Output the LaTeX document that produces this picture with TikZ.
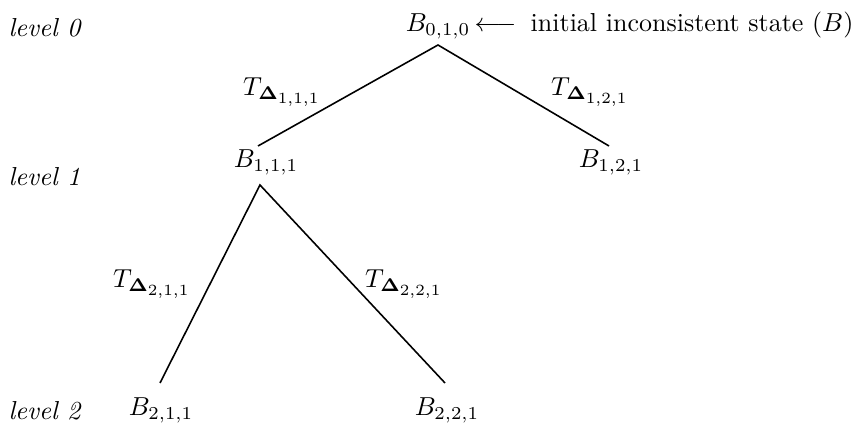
\documentclass[tikz,border=0pt]{standalone}
\usepackage{amsmath, amssymb}
\usepackage{tikz}
\DeclareMathSizes{10}{10}{7}{6}

\tikzset{
	lvl/.style={anchor=base west, inner sep=0pt, scale=1.48, font=\itshape},
	st/.style={anchor=base, inner sep=0pt, scale=1.48},
	edge/.style={line width=0.9pt}
}

\begin{document}
\begin{tikzpicture}[x=0.02cm,y=-0.02cm]
				\useasboundingbox (0,0) rectangle (862,431);
				\coordinate (A) at (438,45);
				\coordinate (B) at (258,146);
				\coordinate (C) at (609,146);
				\coordinate (D) at (260,185);
				\coordinate (E) at (160,383);
				\coordinate (F) at (445,383);
				\draw[edge] (B)--(A)--(C);
				\draw[edge] (E)--(D)--(F);
				\node[lvl] (lv0) at (8,37) {level 0};
				\node[lvl] (lv1) at (8,186) {level 1};
				\node[lvl] (lv2) at (8,420) {level 2};
				\node[st] (b010) at (438,32) {$B_{0,1,0}$};
				\node[st, anchor=base west] (init) at (474,32) {$\longleftarrow$\hspace{0.55em}initial inconsistent state $(B)$};
				\node[st] (t111) at (282,96) {$T_{\boldsymbol{\Delta}_{1,1,1}}$};
				\node[st] (t121) at (590,96) {$T_{\boldsymbol{\Delta}_{1,2,1}}$};
				\node[st] (b111) at (266,168) {$B_{1,1,1}$};
				\node[st] (b121) at (611,168) {$B_{1,2,1}$};
				\node[st] (t211) at (152,288) {$T_{\boldsymbol{\Delta}_{2,1,1}}$};
				\node[st] (t221) at (404,288) {$T_{\boldsymbol{\Delta}_{2,2,1}}$};
				\node[st] (b211) at (161,416) {$B_{2,1,1}$};
				\node[st] (b221) at (447,416) {$B_{2,2,1}$};
			\end{tikzpicture}
\end{document}
